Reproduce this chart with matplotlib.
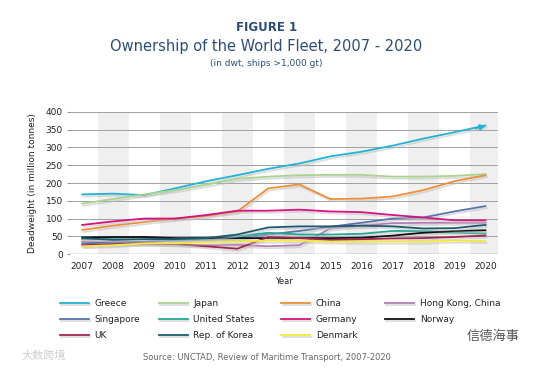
import matplotlib.pyplot as plt
import matplotlib.patheffects as pe

plt.rcParams['font.family'] = ['DejaVu Sans', 'Noto Sans CJK SC']

years = list(range(2007, 2021))

greece = [168, 170, 166, 185, 205, 222, 240, 255, 275, 288, 305, 325, 343, 362]
japan = [142, 155, 168, 180, 195, 212, 218, 222, 223, 223, 218, 218, 220, 225]
china = [68, 80, 90, 100, 107, 120, 185, 196, 155, 156, 162, 180, 205, 222]
hong_kong = [35, 33, 30, 28, 25, 26, 22, 25, 72, 80, 87, 88, 88, 88]
singapore = [30, 33, 35, 38, 40, 45, 55, 65, 77, 88, 100, 103, 120, 135]
united_states = [42, 45, 48, 40, 43, 50, 60, 55, 55, 57, 65, 65, 60, 58]
germany = [82, 92, 100, 100, 110, 122, 122, 125, 120, 118, 110, 103, 95, 95]
norway = [47, 48, 48, 45, 45, 45, 45, 45, 45, 46, 52, 60, 65, 67]
uk = [25, 28, 30, 28, 22, 15, 48, 45, 40, 42, 44, 45, 48, 52]
korea = [45, 40, 42, 42, 45, 55, 75, 78, 78, 80, 78, 72, 73, 82]
denmark = [22, 25, 30, 30, 33, 35, 38, 38, 35, 35, 35, 35, 38, 37]

series = [
    ('Greece', greece, '#1fb3d6'),
    ('Japan', japan, '#a9d48e'),
    ('China', china, '#ee8f35'),
    ('Hong Kong, China', hong_kong, '#b47db4'),
    ('Singapore', singapore, '#5a72ad'),
    ('United States', united_states, '#1fa896'),
    ('Germany', germany, '#d4137f'),
    ('Norway', norway, '#111111'),
    ('UK', uk, '#a2244f'),
    ('Rep. of Korea', korea, '#1d5a70'),
    ('Denmark', denmark, '#f5ea3a'),
]

fig = plt.figure(figsize=(5.33, 3.72), dpi=100)
ax = fig.add_axes([0.131, 0.317, 0.803, 0.382])

# shaded bands on even years
for y in years:
    if y % 2 == 0:
        ax.axvspan(y - 0.5, y + 0.5, color='#efefef', zorder=0, lw=0)

for v in range(0, 401, 50):
    ax.axhline(v, color='#a0a0a0', lw=0.7, zorder=1)

shadow = [pe.SimpleLineShadow(offset=(0.8, -1.5), shadow_color='#bbbbbb', alpha=0.5), pe.Normal()]
lines = []
for name, vals, col in series:
    ln, = ax.plot(years, vals, color=col, lw=1.3, zorder=3, label=name,
                  path_effects=shadow)
    lines.append(ln)

# arrow head on Greece
ax.annotate('', xy=(years[-1] + 0.1, greece[-1] + 1.5), xytext=(years[-2] + 0.6, greece[-2] + 9),
            arrowprops=dict(arrowstyle='-|>', color='#1fb3d6', lw=1.3, mutation_scale=8),
            zorder=4)

ax.set_xlim(2006.6, 2020.4)
ax.set_ylim(0, 400)
ax.set_xticks(years)
ax.set_xticklabels([str(y) for y in years], fontsize=6.5, color='#222222')
ax.set_yticks(range(0, 401, 50))
ax.set_yticklabels([str(v) for v in range(0, 401, 50)], fontsize=6.5, color='#222222')
ax.tick_params(axis='x', length=0, pad=6)
ax.tick_params(axis='y', length=2, color='#9a9a9a', pad=3)
for s in ax.spines.values():
    s.set_visible(False)
ax.axhline(0, color='#555555', lw=0.9, zorder=2)

ax.set_ylabel('Deadweight (in million tonnes)', fontsize=6.5, color='#222222', labelpad=6)
ax.set_xlabel('Year', fontsize=6, color='#222222', labelpad=4)

fig.text(0.5, 0.926, 'FIGURE 1', ha='center', va='center', fontsize=8.5,
         fontweight='bold', color='#2b4d7c')
fig.text(0.5, 0.876, 'Ownership of the World Fleet, 2007 - 2020', ha='center', va='center',
         fontsize=10.5, color='#2b4d7c')
fig.text(0.5, 0.829, '(in dwt, ships >1,000 gt)', ha='center', va='center',
         fontsize=6.5, color='#2b4d7c')

# legend: four columns, filled row by row
col_x = [0.112, 0.298, 0.528, 0.723]
for c in range(4):
    hs = lines[c::4]
    leg = fig.legend(handles=hs, loc='upper left', bbox_to_anchor=(col_x[c], 0.197),
                     frameon=False, fontsize=6.5, handlelength=3.2, handletextpad=0.6,
                     labelspacing=0.8, borderpad=0, borderaxespad=0)
    for t in leg.get_texts():
        t.set_color('#222222')

fig.text(0.5, 0.04, 'Source: UNCTAD, Review of Maritime Transport, 2007-2020', ha='center',
         va='center', fontsize=6, color='#666666')
fig.text(0.04, 0.045, '大数跨境', ha='left', va='center', fontsize=8, color='#cfcfcf',
         family=['Noto Sans CJK SC'])
fig.text(0.975, 0.095, '信德海事', ha='right', va='center', fontsize=9.5, color='#555555',
         family=['Noto Sans CJK SC'])

fig.savefig('out.png', dpi=100)
